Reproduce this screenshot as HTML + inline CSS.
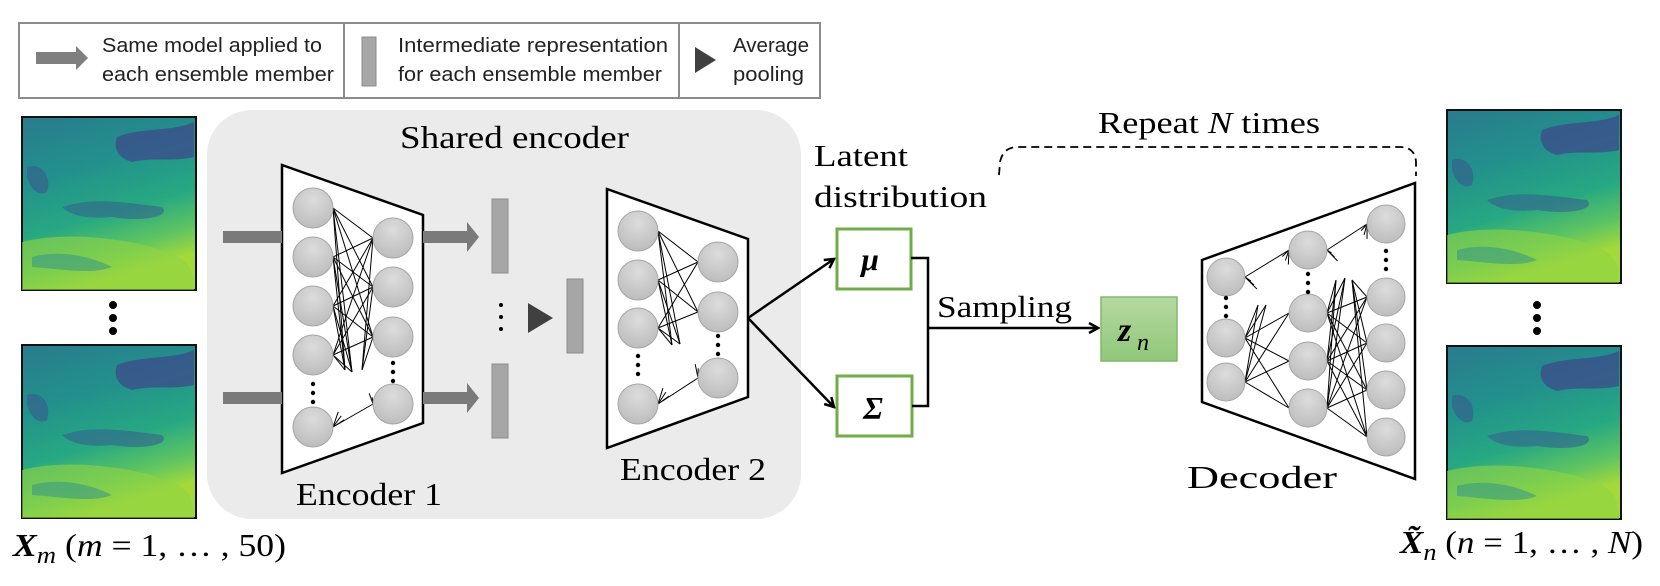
<!DOCTYPE html>
<html><head><meta charset="utf-8"><style>
html,body{margin:0;padding:0;background:#fff;}
svg{display:block;}
.s{font-family:"Liberation Serif",serif;fill:#000;}
.l{font-family:"Liberation Sans",sans-serif;fill:#222;font-size:20px;}
</style></head><body>
<svg id="sv" width="1660" height="586" viewBox="0 0 1660 586" xmlns="http://www.w3.org/2000/svg">
<defs>
<radialGradient id="cg" cx="50%" cy="30%" r="70%"><stop offset="0" stop-color="#dcdcdc"/><stop offset="1" stop-color="#bdbdbd"/></radialGradient>
<linearGradient id="zg" x1="0" y1="0" x2="0" y2="1"><stop offset="0" stop-color="#b5d8a2"/><stop offset="1" stop-color="#90c878"/></linearGradient>
<linearGradient id="mg" x1="0" y1="0" x2="0.3" y2="1"><stop offset="0" stop-color="#2a7b8e"/><stop offset="0.35" stop-color="#22908c"/><stop offset="0.65" stop-color="#27a882"/><stop offset="0.85" stop-color="#5ec462"/><stop offset="1" stop-color="#a5d93a"/></linearGradient>
<g id="map">
<rect x="0" y="0" width="174" height="173" fill="url(#mg)" stroke="#111" stroke-width="2"/>
<path d="M95,20 C120,10 150,15 172,5 L172,40 C150,45 130,40 110,45 C100,42 90,35 95,20Z" fill="#3b4f8b" opacity="0.8"/>
<path d="M5,50 C20,45 30,60 25,75 C15,80 8,70 5,60Z" fill="#34628d" opacity="0.7"/>
<path d="M40,90 C70,80 100,85 140,90 C150,100 120,105 90,100 C70,102 50,100 40,90Z" fill="#33628d" opacity="0.6"/>
<path d="M0,125 C40,115 90,120 130,130 C150,140 172,135 172,173 L0,173Z" fill="#8fd444" opacity="0.6"/>
<path d="M10,140 C40,132 70,140 90,150 C70,158 40,152 10,150Z" fill="#2e8f8c" opacity="0.5"/>
</g>
<marker id="ah" markerWidth="12" markerHeight="12" refX="10" refY="6" orient="auto" markerUnits="userSpaceOnUse"><path d="M1,1 L10,6 L1,11" fill="none" stroke="#000" stroke-width="2.5"/></marker>
</defs>

<!-- legend -->
<rect x="19" y="23" width="801" height="75" fill="#fff" stroke="#8c8c8c" stroke-width="2"/>
<line x1="344" y1="23" x2="344" y2="98" stroke="#8c8c8c" stroke-width="2"/>
<line x1="679" y1="23" x2="679" y2="98" stroke="#8c8c8c" stroke-width="2"/>
<path d="M36,52 L76,52 L76,46 L88,58 L76,70 L76,64 L36,64Z" fill="#7f7f7f"/>
<text class="l" x="102" y="52" textLength="220" lengthAdjust="spacingAndGlyphs">Same model applied to</text>
<text class="l" x="102" y="81" textLength="232" lengthAdjust="spacingAndGlyphs">each ensemble member</text>
<rect x="362" y="37" width="14" height="49" fill="#a6a6a6" stroke="#8c8c8c"/>
<text class="l" x="398" y="52" textLength="270" lengthAdjust="spacingAndGlyphs">Intermediate representation</text>
<text class="l" x="398" y="81" textLength="264" lengthAdjust="spacingAndGlyphs">for each ensemble member</text>
<path d="M695,47 L716,60 L695,73Z" fill="#404040"/>
<text class="l" x="733" y="52" textLength="76" lengthAdjust="spacingAndGlyphs">Average</text>
<text class="l" x="733" y="81" textLength="71" lengthAdjust="spacingAndGlyphs">pooling</text>

<!-- maps -->
<use href="#map" x="22" y="117"/>
<use href="#map" x="22" y="345"/>
<use href="#map" x="1447" y="110"/>
<use href="#map" x="1447" y="346"/>
<g fill="#000"><circle cx="113" cy="305" r="4"/><circle cx="113" cy="318" r="4"/><circle cx="113" cy="331" r="4"/>
<circle cx="1537" cy="305" r="4"/><circle cx="1537" cy="318" r="4"/><circle cx="1537" cy="331" r="4"/></g>

<!-- shared encoder bg -->
<rect x="207" y="110" width="594" height="409" rx="45" fill="#ebebeb"/>
<text class="s" x="400" y="148" font-size="32" textLength="229" lengthAdjust="spacingAndGlyphs">Shared encoder</text>

<!-- encoder 1 -->
<polygon points="282,165 423,215 423,423 282,473" fill="#fff" stroke="#000" stroke-width="2.5"/>
<path d="M223,231 L282,231 L282,243 L223,243Z M423,231 L467,231 L467,222 L479,237 L467,252 L467,243 L423,243Z" fill="#7a7a7a"/>
<path d="M223,392 L282,392 L282,404 L223,404Z M423,392 L467,392 L467,383 L479,398 L467,413 L467,404 L423,404Z" fill="#7a7a7a"/>
<rect x="492" y="199" width="16" height="74" fill="#a6a6a6" stroke="#8c8c8c"/>
<rect x="492" y="364" width="16" height="74" fill="#a6a6a6" stroke="#8c8c8c"/>
<g fill="#000"><circle cx="501" cy="305" r="2"/><circle cx="501" cy="317" r="2"/><circle cx="501" cy="329" r="2"/></g>
<path d="M528,303 L553,318 L528,333Z" fill="#404040"/>
<rect x="567" y="279" width="16" height="74" fill="#a6a6a6" stroke="#8c8c8c"/>

<!-- encoder 2 -->
<polygon points="607,189 748,239 748,397 607,448" fill="#fff" stroke="#000" stroke-width="2.5"/>

<!-- decoder -->
<polygon id="dec" points="1202,260 1415,183 1415,479 1202,402" fill="#fff" stroke="#000" stroke-width="2.5"/>

<g id="lines" stroke="#000" stroke-width="1" fill="none"></g>
<g id="circles"></g>

<text class="s" x="296" y="505" font-size="32" textLength="146" lengthAdjust="spacingAndGlyphs">Encoder 1</text>
<text class="s" x="620" y="480" font-size="32" textLength="146" lengthAdjust="spacingAndGlyphs">Encoder 2</text>
<text class="s" x="1187" y="488" font-size="32" textLength="150" lengthAdjust="spacingAndGlyphs">Decoder</text>

<!-- latent -->
<text class="s" x="814" y="166" font-size="31" textLength="94" lengthAdjust="spacingAndGlyphs">Latent</text>
<text class="s" x="814" y="207" font-size="31" textLength="173" lengthAdjust="spacingAndGlyphs">distribution</text>
<line x1="748" y1="318" x2="834" y2="259" stroke="#000" stroke-width="2.5" marker-end="url(#ah)"/>
<line x1="748" y1="318" x2="834" y2="407" stroke="#000" stroke-width="2.5" marker-end="url(#ah)"/>
<rect x="837" y="229" width="74" height="60" fill="#fff" stroke="#70ad47" stroke-width="3"/>
<rect x="837" y="376" width="75" height="60" fill="#fff" stroke="#70ad47" stroke-width="3"/>
<text class="s" x="870" y="270" font-size="32" font-weight="bold" font-style="italic" text-anchor="middle">μ</text>
<text class="s" x="873" y="419" font-size="32" font-weight="bold" font-style="italic" text-anchor="middle">Σ</text>
<path d="M911,258 L928,258 L928,406 L912,406" fill="none" stroke="#000" stroke-width="2.5"/>
<line x1="928" y1="328" x2="1098" y2="328" stroke="#000" stroke-width="2.5" marker-end="url(#ah)"/>
<text class="s" x="937" y="317" font-size="31" textLength="135" lengthAdjust="spacingAndGlyphs">Sampling</text>
<rect x="1101" y="297" width="76" height="64" fill="url(#zg)" stroke="#82b866" stroke-width="1.5"/>
<text class="s" x="1118" y="341" font-size="34" font-weight="bold" font-style="italic">z</text>
<text class="s" x="1137" y="350" font-size="24" font-style="italic">n</text>

<!-- repeat -->
<text class="s" x="1098" y="133" font-size="31" textLength="222" lengthAdjust="spacingAndGlyphs">Repeat <tspan font-style="italic">N</tspan> times</text>
<path d="M999,175 L1000,162 Q1003,147 1018,147 L1400,147 Q1415,147 1416,162 L1416,176" fill="none" stroke="#000" stroke-width="1.8" stroke-dasharray="8,5"/>

<text class="s" x="13" y="556" font-size="32" textLength="273" lengthAdjust="spacingAndGlyphs"><tspan font-weight="bold" font-style="italic">X</tspan><tspan font-style="italic" font-size="24" dy="7">m</tspan><tspan dy="-7"> (</tspan><tspan font-style="italic">m</tspan> = 1, … , 50)</text>
<text class="s" x="1400" y="553" font-size="32" textLength="243" lengthAdjust="spacingAndGlyphs"><tspan font-weight="bold" font-style="italic">X̃</tspan><tspan font-style="italic" font-size="24" dy="7">n</tspan><tspan dy="-7"> (</tspan><tspan font-style="italic">n</tspan> = 1, … , <tspan font-style="italic">N</tspan>)</text>
</svg>
<script>
(function(){
var NS="http://www.w3.org/2000/svg";
var L=document.getElementById("lines"),C=document.getElementById("circles");
function ln(a,b,c,d){var e=document.createElementNS(NS,"line");e.setAttribute("x1",a);e.setAttribute("y1",b);e.setAttribute("x2",c);e.setAttribute("y2",d);L.appendChild(e);}
function ci(x,y,r){var e=document.createElementNS(NS,"circle");e.setAttribute("cx",x);e.setAttribute("cy",y);e.setAttribute("r",r);e.setAttribute("fill","url(#cg)");e.setAttribute("stroke","#a6a6a6");e.setAttribute("stroke-width","1");C.appendChild(e);}
function dots(x,y){for(var i=0;i<3;i++){var e=document.createElementNS(NS,"circle");e.setAttribute("cx",x);e.setAttribute("cy",y-9+i*9);e.setAttribute("r",2.2);e.setAttribute("fill","#000");C.appendChild(e);}}
function fc(ax,A,bx,B,r){A.forEach(function(a){B.forEach(function(b){ln(ax+r,a,bx-r,b);});});}
function fan(x,y,tx,ty,n){for(var i=0;i<n;i++){ln(x,y,x+(tx-x)*0.35+i*3,y+(ty-y)*0.35+ (i-1)*4);}}
var e1l=[208,257,306,355],e1r=[238,287,337];
fc(313,e1l,393,e1r,20);
e1l.forEach(function(y){ln(333,y,345,370);ln(333,y,352,372);});
e1r.forEach(function(y){ln(373,y,362,370);});
ln(333,427,373,404);fan(333,427,348,395,3);fan(373,404,362,385,3);
e1l.forEach(function(y){ci(313,y,20);});ci(313,427,20);dots(313,393);
e1r.forEach(function(y){ci(393,y,20);});ci(393,404,20);dots(393,372);
var e2l=[231,280,328],e2r=[262,312];
fc(638,e2l,718,e2r,20);
e2l.forEach(function(y){ln(658,y,672,345);ln(658,y,680,344);});
ln(658,404,698,378);fan(658,404,672,370,3);fan(698,378,690,350,3);
e2l.forEach(function(y){ci(638,y,20);});ci(638,404,20);dots(638,365);
e2r.forEach(function(y){ci(718,y,20);});ci(718,378,20);dots(718,345);
var d1=[338,382],d2=[313,361,408],d3=[297,343,390,437];
fc(1226,d1,1308,d2,19);
d1.forEach(function(y){ln(1245,y,1258,305);ln(1245,y,1266,305);});
fc(1308,d2,1386,d3,19);
d2.forEach(function(y){ln(1327,y,1336,280);ln(1327,y,1345,278);});
d3.forEach(function(y){ln(1367,y,1352,280);});
ln(1245,277,1289,250);fan(1245,277,1262,300,3);fan(1289,250,1270,280,3);
ln(1327,250,1367,224);fan(1327,250,1340,270,3);fan(1367,224,1350,255,3);
ci(1226,277,19);d1.forEach(function(y){ci(1226,y,19);});dots(1226,307);
ci(1308,250,19);d2.forEach(function(y){ci(1308,y,19);});dots(1308,283);
ci(1386,224,19);d3.forEach(function(y){ci(1386,y,19);});dots(1386,260);
})();
</script>
</body></html>
